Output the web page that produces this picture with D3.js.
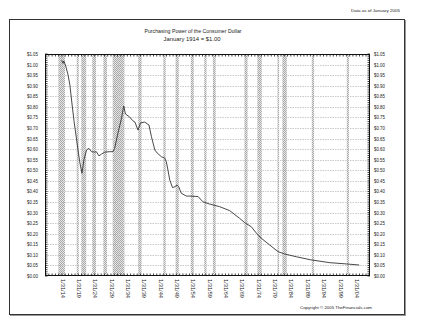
<!DOCTYPE html>
<html><head><meta charset="utf-8">
<script src="https://cdn.jsdelivr.net/npm/d3@7"></script>
<style>html,body{margin:0;padding:0;background:#fff}svg{display:block}text{font-family:"Liberation Sans",Arial,sans-serif;fill:#222}</style>
</head><body><div id="chart"></div>
<script>
// Purchasing power series: [year (decimal), value in $]
const years = [1914.0,1914.4,1914.63,1915.15,1915.95,1916.5,1917.2,1917.8,1918.5,1919.0,1919.5,1920.2,1920.8,1921.6,1922.3,1923.1,1924.1,1924.6,1925.4,1926.2,1927.2,1928.7,1929.7,1930.2,1931.2,1932.3,1932.8,1933.0,1933.5,1934.8,1935.7,1936.4,1937.35,1938.1,1939.4,1940.7,1941.45,1942.5,1943.2,1944.5,1945.5,1946.0,1946.5,1947.05,1947.9,1948.6,1949.3,1949.8,1950.6,1952.15,1953.2,1955.7,1957.2,1959.3,1962.3,1965.4,1968.4,1970.0,1972.0,1973.6,1975.1,1977.6,1980.2,1982.2,1985.8,1990.0,1996.0,2001.1,2005.0];
const values = [1.02,1.006,1.017,0.998,0.951,0.904,0.809,0.73,0.653,0.596,0.541,0.486,0.549,0.596,0.604,0.588,0.586,0.588,0.568,0.577,0.586,0.588,0.588,0.604,0.675,0.746,0.79,0.804,0.766,0.752,0.735,0.728,0.69,0.724,0.728,0.714,0.659,0.596,0.582,0.564,0.558,0.541,0.501,0.454,0.418,0.422,0.43,0.422,0.391,0.378,0.378,0.376,0.351,0.34,0.328,0.309,0.273,0.252,0.233,0.202,0.178,0.147,0.115,0.104,0.091,0.077,0.063,0.057,0.052];
// Recession bands (start, end) in decimal years
const recStart = [1913.0,1918.6,1920.0,1923.35,1926.75,1929.6,1937.4,1945.1,1948.85,1953.5,1957.6,1960.25,1969.9,1973.85,1980.0,1981.5,1990.5,2001.2];
const recEnd   = [1915.0,1919.2,1921.5,1924.5,1927.85,1933.2,1938.45,1945.8,1949.8,1954.4,1958.3,1961.1,1970.85,1975.2,1980.5,1982.85,1991.2,2001.85];
const yTicks = [0,0.05,0.10,0.15,0.20,0.25,0.30,0.35,0.40,0.45,0.50,0.55,0.60,0.65,0.70,0.75,0.80,0.85,0.90,0.95,1.00,1.05];
const xTickYears = [1914,1919,1924,1929,1934,1939,1944,1949,1954,1959,1964,1969,1974,1979,1984,1989,1994,1999,2004];
const xTickLabels = ["1/31/14","1/31/19","1/31/24","1/31/29","1/31/34","1/31/39","1/31/44","1/31/49","1/31/54","1/31/59","1/31/64","1/31/69","1/31/74","1/31/79","1/31/84","1/31/89","1/31/94","1/31/99","1/31/04"];
const titleLines = ["Purchasing Power of the Consumer Dollar","January 1914 = $1.00"];
const noteText = "Data as of January 2005";
const copyText = "Copyright \u00a9 2005 TheFinancials.com";

const W=421,H=329;
const L=45,R=370,T=54,B=276;
const svg=d3.select("#chart").append("svg").attr("width",W).attr("height",H);
svg.append("rect").attr("width",W).attr("height",H).attr("fill","#fff");

const defs=svg.append("defs");
const pat=defs.append("pattern").attr("id","stip").attr("width",2).attr("height",2).attr("patternUnits","userSpaceOnUse");
pat.append("rect").attr("width",2).attr("height",2).attr("fill","#e6e6e6");
pat.append("rect").attr("width",1).attr("height",1).attr("fill","#a8a8a8");
pat.append("rect").attr("x",1).attr("y",1).attr("width",1).attr("height",1).attr("fill","#a8a8a8");
defs.append("clipPath").attr("id","pc").append("rect").attr("x",L).attr("y",T).attr("width",R-L).attr("height",B-T);

// outer frame
svg.append("rect").attr("x",10.5).attr("y",20.5).attr("width",395).attr("height",295).attr("fill","none").attr("stroke","#999").attr("stroke-width",1);
svg.append("rect").attr("x",9.5).attr("y",19.5).attr("width",395).attr("height",295).attr("fill","#fff").attr("stroke","#333").attr("stroke-width",1);

const x=d3.scaleLinear().domain([1908.9,2008.3]).range([L,R]);
const y=d3.scaleLinear().domain([0,1.05]).range([B,T]);

// recession bands
const bands=svg.append("g").attr("clip-path","url(#pc)");
bands.selectAll("rect").data(recStart.map((s,i)=>[s,recEnd[i]])).join("rect")
 .attr("x",d=>x(d[0])).attr("y",T).attr("width",d=>Math.max(1.5,x(d[1])-x(d[0]))).attr("height",B-T)
 .attr("fill","url(#stip)");

// horizontal gridlines
svg.append("g").selectAll("line").data(yTicks.slice(1,-1)).join("line")
 .attr("x1",L).attr("x2",R).attr("y1",d=>Math.round(y(d))+0.5).attr("y2",d=>Math.round(y(d))+0.5)
 .attr("stroke","#bdbdbd").attr("stroke-width",0.8).attr("stroke-dasharray","1.5,1");

// line
const line=d3.line().x(d=>x(d[0])).y(d=>y(d[1]));
svg.append("path").datum(years.map((yr,i)=>[yr,values[i]])).attr("d",line)
 .attr("fill","none").attr("stroke","#333").attr("stroke-width",0.9).attr("clip-path","url(#pc)");

// plot frame
svg.append("rect").attr("x",L+0.5).attr("y",T+0.5).attr("width",R-L-1).attr("height",B-T-1).attr("fill","none").attr("stroke","#111").attr("stroke-width",1);

// minor ticks
const yrs=d3.range(1909,2009);
const tk=svg.append("g").attr("stroke","#111").attr("stroke-width",0.8);
yrs.forEach(v=>{const xx=x(v+0.083);
 tk.append("line").attr("x1",xx).attr("x2",xx).attr("y1",B).attr("y2",B-2.5);
 tk.append("line").attr("x1",xx).attr("x2",xx).attr("y1",T).attr("y2",T+2.5);});
d3.range(0,106).forEach(k=>{const yy=y(k/100);
 tk.append("line").attr("x1",L).attr("x2",L+2.5).attr("y1",yy).attr("y2",yy);
 tk.append("line").attr("x1",R).attr("x2",R-2.5).attr("y1",yy).attr("y2",yy);});

// axes labels
const fmt=d=>"$"+d.toFixed(2);
const ga=svg.append("g").attr("transform",`translate(${L-7},0)`).call(d3.axisLeft(y).tickValues(yTicks).tickFormat(fmt).tickSize(0));
ga.select(".domain").remove();
ga.selectAll("text").attr("font-size",4.6).attr("x",0).attr("textLength",11).attr("lengthAdjust","spacingAndGlyphs").style("font-family","Liberation Sans");
const gb=svg.append("g").attr("transform",`translate(${R+4},0)`).call(d3.axisRight(y).tickValues(yTicks).tickFormat(fmt).tickSize(0));
gb.select(".domain").remove();
gb.selectAll("text").attr("font-size",4.6).attr("x",0).attr("textLength",11).attr("lengthAdjust","spacingAndGlyphs").style("font-family","Liberation Sans");

const gx=svg.append("g").attr("transform",`translate(0,${B+3})`)
 .call(d3.axisBottom(x).tickValues(xTickYears.map(v=>v+0.083)).tickFormat((d,i)=>xTickLabels[i]).tickSize(0));
gx.select(".domain").remove();
gx.selectAll("text").attr("font-size",5.2).attr("transform","rotate(90)").attr("x",0).attr("y",0).attr("dy","0.35em")
 .attr("text-anchor","start").attr("textLength",19).attr("lengthAdjust","spacingAndGlyphs").style("font-family","Liberation Sans");

// titles
svg.append("text").attr("x",193).attr("y",33).attr("text-anchor","middle").attr("font-size",5.6).attr("textLength",97).attr("lengthAdjust","spacingAndGlyphs").text(titleLines[0]);
svg.append("text").attr("x",192).attr("y",41).attr("text-anchor","middle").attr("font-size",5.6).attr("textLength",57).attr("lengthAdjust","spacingAndGlyphs").text(titleLines[1]);
svg.append("text").attr("x",400).attr("y",12).attr("text-anchor","end").attr("font-size",4.4).attr("textLength",49).attr("lengthAdjust","spacingAndGlyphs").text(noteText);
svg.append("text").attr("x",372).attr("y",309).attr("text-anchor","end").attr("font-size",4.4).attr("textLength",72).attr("lengthAdjust","spacingAndGlyphs").text(copyText);
</script></body></html>
